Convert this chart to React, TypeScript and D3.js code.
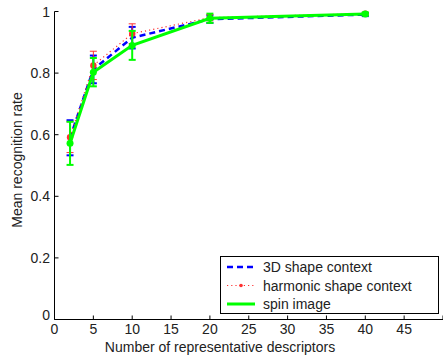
import React from "react";
import * as d3 from "d3";

// number of representative descriptors
const descriptors = [2, 5, 10, 20, 40];

// mean recognition rate per method
const shapeContext3D = [0.59, 0.812, 0.915, 0.975, 0.99];
const shapeContext3DErr = [0.057, 0.045, 0.035, 0.012, 0.005];

const harmonicShape = [0.592, 0.825, 0.928, 0.98, 0.993];
const harmonicShapeErr = [0.05, 0.046, 0.032, 0.01, 0.004];

const spinImage = [0.572, 0.803, 0.89, 0.978, 0.992];
const spinImageErr = [0.07, 0.046, 0.047, 0.015, 0.005];

const xTicks = [0, 5, 10, 15, 20, 25, 30, 35, 40, 45];
const yTicks = [0, 0.2, 0.4, 0.6, 0.8, 1];

const legendLabels = ["3D shape context", "harmonic shape context", "spin image"];

const W = 443;
const H = 357;
const FONT = "'Liberation Sans', Arial, sans-serif";

export default function App() {
  const x = d3.scaleLinear().domain([0, 50]).range([54.5, 443]);
  const y = d3.scaleLinear().domain([0, 1]).range([319.5, 11.5]);

  const line = d3
    .line<number>()
    .x((_, i) => x(descriptors[i]))
    .y((d) => y(d));

  const series = [
    { name: legendLabels[0], vals: shapeContext3D, err: shapeContext3DErr, color: "#0000ff", width: 2.5, dash: "6,4", dot: 0 },
    { name: legendLabels[1], vals: harmonicShape, err: harmonicShapeErr, color: "#ff3030", width: 1.2, dash: "1.2,3", dot: 3.2 },
    { name: legendLabels[2], vals: spinImage, err: spinImageErr, color: "#00ff00", width: 3, dash: "none", dot: 3.5 },
  ];

  const cap = 3.5;

  return (
    <svg
      width={W}
      height={H}
      style={{ position: "absolute", left: 0, top: 0, background: "#fff" }}
      fontFamily={FONT}
    >
      {/* data */}
      {series.map((s) => (
        <g key={s.name}>
          {s.vals.map((v, i) => {
            const cx = x(descriptors[i]);
            const y1 = y(v + s.err[i]);
            const y0 = y(v - s.err[i]);
            return (
              <g key={i} stroke={s.color} strokeWidth={s.width > 2 ? 2 : 1}>
                <line x1={cx} x2={cx} y1={y1} y2={y0} />
                <line x1={cx - cap} x2={cx + cap} y1={y1} y2={y1} />
                <line x1={cx - cap} x2={cx + cap} y1={y0} y2={y0} />
              </g>
            );
          })}
          <path
            d={line(s.vals) ?? ""}
            fill="none"
            stroke={s.color}
            strokeWidth={s.width}
            strokeDasharray={s.dash}
          />
          {s.dot > 0 &&
            s.vals.map((v, i) => (
              <circle key={i} cx={x(descriptors[i])} cy={y(v)} r={s.dot} fill={s.color} />
            ))}
        </g>
      ))}

      {/* axes */}
      <g stroke="#000" strokeWidth={1} fill="none">
        <line x1={x(0)} x2={x(0)} y1={y(1)} y2={y(0)} />
        <line x1={x(0)} x2={x(50)} y1={y(0)} y2={y(0)} />
        {xTicks.map((t) => (
          <line key={t} x1={x(t)} x2={x(t)} y1={y(0)} y2={y(0) - 4} />
        ))}
        <line x1={x(50)} x2={x(50)} y1={y(0)} y2={y(0) - 4} />
        {yTicks.map((t) => (
          <line key={t} x1={x(0)} x2={x(0) + 4} y1={y(t)} y2={y(t)} />
        ))}
      </g>
      <g fontSize={14} fill="#222">
        {xTicks.map((t) => (
          <text key={t} x={x(t)} y={334} textAnchor="middle">
            {t}
          </text>
        ))}
        {yTicks.map((t) => (
          <text key={t} x={50} y={y(t) + (t === 0 ? 0 : 5)} textAnchor="end">
            {t}
          </text>
        ))}
        <text x={220} y={352} textAnchor="middle">
          Number of representative descriptors
        </text>
        <text transform={`translate(22,160) rotate(-90)`} textAnchor="middle">
          Mean recognition rate
        </text>
      </g>

      {/* legend */}
      <g>
        <rect x={220.5} y={256.5} width={218} height={57} fill="#fff" stroke="#000" strokeWidth={1} />
        {series.map((s, i) => {
          const ly = 267 + i * 18.5;
          return (
            <g key={s.name}>
              <line
                x1={227}
                x2={255}
                y1={ly}
                y2={ly}
                stroke={s.color}
                strokeWidth={s.width}
                strokeDasharray={s.dash}
              />
              {s.name === legendLabels[1] && <circle cx={241} cy={ly} r={1.8} fill={s.color} />}
              <text x={263} y={ly + 5} fontSize={14} fill="#222">
                {s.name}
              </text>
            </g>
          );
        })}
      </g>
    </svg>
  );
}
